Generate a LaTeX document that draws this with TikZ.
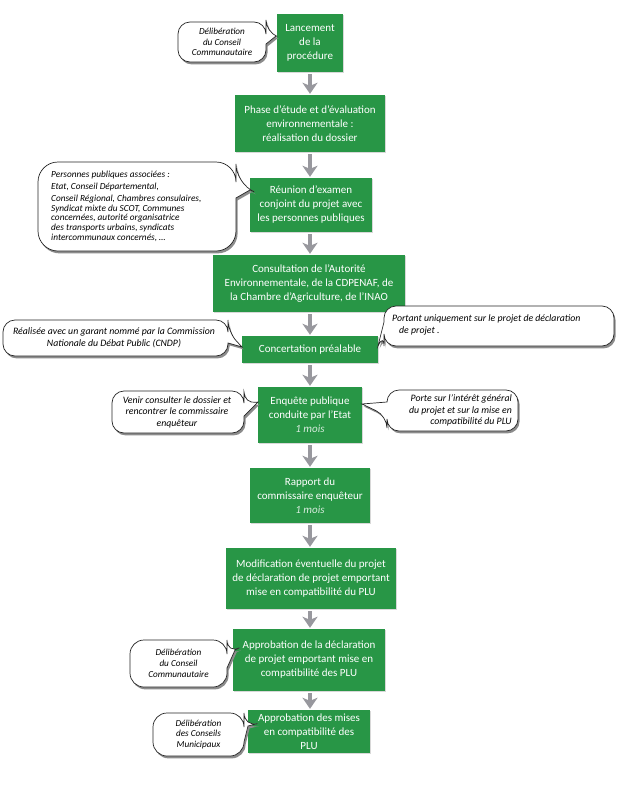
\documentclass[tikz,border=0pt]{standalone}
\usepackage{fontspec}
\setmainfont{Carlito}
\usetikzlibrary{arrows.meta,shadows}
\definecolor{boxgreen}{RGB}{40,150,70}
\definecolor{arrgray}{RGB}{152,152,158}
\tikzset{
  bubline/.style={draw=black!85,line width=0.7pt,fill=white},
  bubshadow/.style={fill=black!45,shift={(1.6,2.4)}},
  gbox/.style={fill=boxgreen,text=white,align=center,inner sep=0pt,
    font=\fontsize{11}{14}\selectfont,
    drop shadow={shadow xshift=0.8pt,shadow yshift=-1pt,opacity=0.3}},
  ctext/.style={align=center,inner sep=0pt,font=\fontsize{9.2}{10.8}\selectfont\itshape},
  cbig/.style={ctext,font=\fontsize{9.8}{11.6}\selectfont\itshape},
  garr/.style={draw=arrgray,line width=4.4pt,-{Stealth[length=11pt,width=15pt,inset=3pt]},
    shorten <=2pt,shorten >=1pt}
}
\newcommand\moistxt[1]{{\itshape\color{white!82!boxgreen}#1}}
% bubble with tail on the right edge: x1 y1 x2 y2 R ya yb tip
\newcommand\bubR[8]{%
  \fill[bubshadow,rounded corners=#5] (#1,#2) -- (#3,#2) -- (#3,#6) [sharp corners] -- #8 -- (#3,#7) [rounded corners=#5] -- (#3,#4) -- (#1,#4) -- cycle;
  \draw[bubline,rounded corners=#5] (#1,#2) -- (#3,#2) -- (#3,#6) [sharp corners] -- #8 -- (#3,#7) [rounded corners=#5] -- (#3,#4) -- (#1,#4) -- cycle;}
% bubble with tail on the left edge
\newcommand\bubL[8]{%
  \fill[bubshadow,rounded corners=#5] (#1,#2) -- (#3,#2) -- (#3,#4) -- (#1,#4) -- (#1,#7) [sharp corners] -- #8 -- (#1,#6) [rounded corners=#5] -- cycle;
  \draw[bubline,rounded corners=#5] (#1,#2) -- (#3,#2) -- (#3,#4) -- (#1,#4) -- (#1,#7) [sharp corners] -- #8 -- (#1,#6) [rounded corners=#5] -- cycle;}
\begin{document}
\begin{tikzpicture}[x=1pt,y=-1pt]
\fill[white] (0,0) rectangle (616,790);
\useasboundingbox (0,0) rectangle (616,790);

% green boxes
\node[gbox,minimum width=66pt,minimum height=58pt] (b1) at (310,43) {Lancement\\de la\\procédure};
\node[gbox,minimum width=150pt,minimum height=57pt] (b2) at (310,123.5) {Phase d’étude et d’évaluation\\environnementale :\\réalisation du dossier};
\node[gbox,minimum width=122pt,minimum height=54pt] (b3) at (311,205) {Réunion d’examen\\conjoint du projet avec\\les personnes publiques};
\node[gbox,minimum width=192pt,minimum height=57pt] (b4) at (309,283.5) {Consultation de l’Autorité\\Environnementale, de la CDPENAF, de\\la Chambre d’Agriculture, de l’INAO};
\node[gbox,minimum width=136pt,minimum height=27pt] (b5) at (310,349.5) {Concertation préalable};
\node[gbox,minimum width=104pt,minimum height=56pt] (b6) at (310,415) {Enquête publique\\conduite par l’Etat\\\moistxt{1 mois}};
\node[gbox,minimum width=120pt,minimum height=55pt] (b7) at (310,495.5) {Rapport du\\commissaire enquêteur\\\moistxt{1 mois}};
\node[gbox,minimum width=170pt,minimum height=61pt] (b8) at (311,578.5) {Modification éventuelle du projet\\de déclaration de projet emportant\\mise en compatibilité du PLU};
\node[gbox,minimum width=152pt,minimum height=62pt] (b9) at (309,660) {Approbation de la déclaration\\de projet emportant mise en\\compatibilité des PLU};
\node[gbox,minimum width=122pt,minimum height=43pt] (b10) at (309,731.5) {Approbation des mises\\en compatibilité des\\PLU};

% arrows
\draw[garr] (b1.south) -- (b1.south |- b2.north);
\draw[garr] (b2.south) -- (b2.south |- b3.north);
\draw[garr] (b3.south -| b2.south) -- (b2.south |- b4.north);
\draw[garr] (b4.south -| b2.south) -- (b2.south |- b5.north);
\draw[garr] (b5.south) -- (b5.south |- b6.north);
\draw[garr] (b6.south) -- (b6.south |- b7.north);
\draw[garr] (b7.south) -- (b7.south |- b8.north);
\draw[garr] (b8.south -| b7.south) -- (b7.south |- b9.north);
\draw[garr] (b9.south -| b7.south) -- (b7.south |- b10.north);

% callout bubbles
\bubR{178}{22}{266}{62}{12}{32}{44}{(276,36)}
\bubR{38}{162}{236}{251}{20}{184}{198}{(250,190)}
\bubR{3}{320}{228}{356}{12}{332}{343}{(242,347)}
\bubL{384}{306}{614}{346}{12}{322}{334}{(378,346)}
\bubR{112}{391}{244}{433}{12}{404}{416}{(258,402)}
\bubL{387}{390}{518}{431}{12}{402}{416}{(362,404)}
\bubR{130}{640}{227}{687}{14}{654}{668}{(235,650)}
\bubR{153}{713}{244}{756}{14}{727}{742}{(248,726)}

% callout texts
\node[ctext] (c1) at (222,42) {Délibération\\du Conseil\\Communautaire};
\node[ctext,align=left,anchor=west,font=\fontsize{9.3}{9.6}\selectfont\itshape] (c3) at (51,206)
  {Personnes publiques associées :\\[2.6pt]Etat, Conseil Départemental,\\[2.6pt]Conseil Régional, Chambres consulaires,\\Syndicat mixte du SCOT, Communes\\concernées, autorité organisatrice\\des transports urbains, syndicats\\intercommunaux concernés, …};
\node[cbig] (c5l) at (114,337.5) {Réalisée avec un garant nommé par la Commission\\Nationale du Débat Public (CNDP)};
\node[cbig,align=left,anchor=west] (c5r) at (392,325) {Portant uniquement sur le projet de déclaration\\\hspace*{7pt}de projet .};
\node[cbig] (c6l) at (177,412) {Venir consulter le dossier et\\rencontrer le commissaire\\enquêteur};
\node[cbig,align=right,anchor=east] (c6r) at (512,410.5) {Porte sur l’intérêt général\\du projet et sur la mise en\\compatibilité du PLU};
\node[ctext] (c9) at (178.5,663.5) {Délibération\\du Conseil\\Communautaire};
\node[ctext] (c10) at (198.5,734.5) {Délibération\\des Conseils\\Municipaux};
\end{tikzpicture}
\end{document}
